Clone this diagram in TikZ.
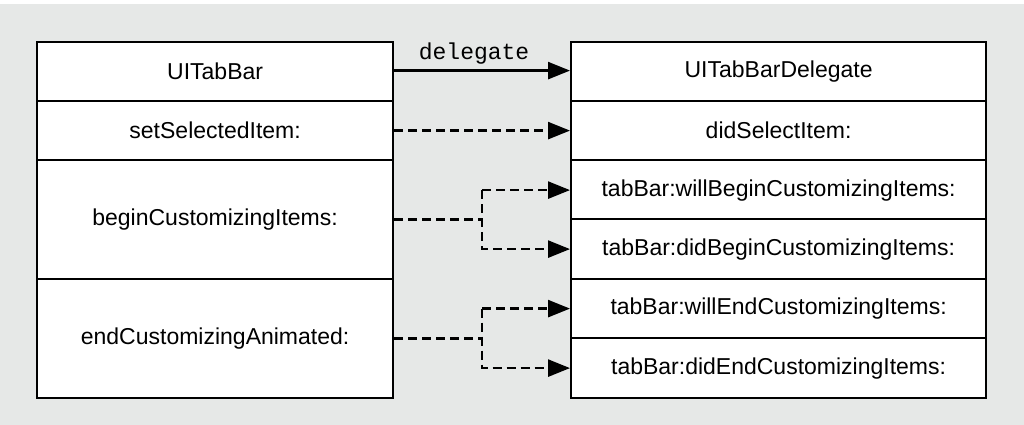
\documentclass[tikz,border=0pt]{standalone}
\usepackage{fontspec}
\setmainfont{Liberation Sans}
\newfontfamily\monofont{Liberation Mono}
\usetikzlibrary{arrows.meta}
\definecolor{bggray}{HTML}{E6E8E7}
\tikzset{
  cell/.style={draw=black, fill=white, line width=2.2pt, font=\fontsize{23}{26}\selectfont, inner sep=0pt, anchor=north west},
  conn/.style={line width=2.6pt, -{Triangle[length=22pt,width=17pt]}},
  dconn/.style={conn, dash pattern=on 9pt off 5pt},
  dline/.style={line width=2.6pt, dash pattern=on 9pt off 5pt},
}
\begin{document}
\begin{tikzpicture}[x=1pt,y=-1pt]
\useasboundingbox (0,0) rectangle (1024,425);
\fill[white] (0,0) rectangle (1024,425);
\fill[bggray] (0,4) rectangle (1024,425);
% left box
\node[cell, minimum width=356pt, minimum height=59pt] (l1) at (36,41) {UITabBar};
\node[cell, minimum width=356pt, minimum height=59pt] (l2) at (36,100) {setSelectedItem:};
\node[cell, minimum width=356pt, minimum height=119pt] (l3) at (36,159) {beginCustomizingItems:};
\node[cell, minimum width=356pt, minimum height=119pt] (l4) at (36,278) {endCustomizingAnimated:};
% right box
\node[cell, minimum width=415pt, minimum height=59pt] (r1) at (570,41) {UITabBarDelegate};
\node[cell, minimum width=415pt, minimum height=59pt] (r2) at (570,100) {didSelectItem:};
\node[cell, minimum width=415pt, minimum height=60pt] (r3) at (570,159) {tabBar:willBeginCustomizingItems:};
\node[cell, minimum width=415pt, minimum height=60pt] (r4) at (570,218) {tabBar:didBeginCustomizingItems:};
\node[cell, minimum width=415pt, minimum height=59pt] (r5) at (570,278) {tabBar:willEndCustomizingItems:};
\node[cell, minimum width=415pt, minimum height=60pt] (r6) at (570,337) {tabBar:didEndCustomizingItems:};
% connectors
\draw[conn] ([yshift=1pt]l1.east) -- node[above=2pt, xshift=-8pt, font=\monofont\fontsize{23}{26}\selectfont] (dlab) {delegate} ([yshift=1pt]r1.west);
\draw[dconn] (l2.east) -- (r2.west);
\coordinate (b1) at (482,0);
\coordinate (b2) at (482,0);
\draw[dline] (l3.east) -- (l3.east -| b1);
\draw[dconn] (r3.west -| b1) -- (r3.west);
\draw[dconn] (r3.west -| b1) -- (r4.west -| b1) -- (r4.west);
\draw[dline] (l4.east) -- (l4.east -| b2);
\draw[dconn] (r5.west -| b2) -- (r5.west);
\draw[dconn] (r5.west -| b2) -- (r6.west -| b2) -- (r6.west);
\end{tikzpicture}
\end{document}
